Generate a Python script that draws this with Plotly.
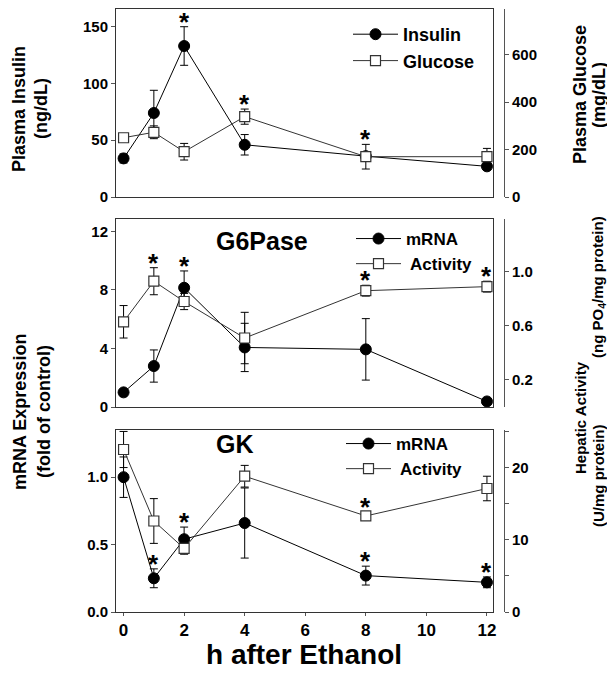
import plotly.graph_objects as go

W, H = 615, 689

hours = [0, 1, 2, 4, 8, 12]
x_ticks = [0, 2, 4, 6, 8, 10, 12]

insulin = [34, 74, 133, 46, 36, 27]
insulin_err = [4, 20, 17, 9, 4, 2]
insulin_star = [0, 0, 1, 0, 0, 0]
glucose = [250, 273, 191, 339, 170, 170]
glucose_err = [15, 27, 35, 32, 52, 35]
glucose_star = [0, 0, 0, 1, 1, 0]

g6_mrna = [1.0, 2.8, 8.15, 4.07, 3.94, 0.38]
g6_mrna_err = [0.1, 1.1, 1.15, 1.65, 2.1, 0.1]
g6_mrna_star = [0, 0, 1, 0, 0, 0]
g6_act = [0.63, 0.93, 0.78, 0.51, 0.86, 0.89]
g6_act_err = [0.12, 0.10, 0.06, 0.19, 0.04, 0.04]
g6_act_star = [0, 1, 0, 0, 1, 1]

gk_mrna = [1.0, 0.25, 0.54, 0.66, 0.27, 0.22]
gk_mrna_err = [0.15, 0.07, 0.09, 0.26, 0.07, 0.04]
gk_mrna_star = [0, 1, 1, 0, 1, 1]
gk_act = [22.5, 12.6, 8.8, 18.8, 13.3, 17.1]
gk_act_err = [2.5, 3.1, 0.8, 1.5, 0.5, 1.7]
gk_act_star = [0, 0, 0, 0, 1, 0]

FONT = "Arial, Liberation Sans, sans-serif"
OFF = 8  # compensation for the page's body margin


def px(xp):
    return (xp - OFF) / W


def py(yp):
    return 1 - (yp - OFF) / H


XDOM = [px(116), px(493)]
RIGHT_POS = px(504)
DOMS = {
    1: [py(197), py(9)],
    2: [py(407), py(219)],
    3: [py(612), py(430)],
}
XRANGE = [-0.25, 12.2]

fig = go.Figure()


def add_series(name, y, err, xa, ya, filled, legend, rank):
    if filled:
        marker = dict(symbol="circle", size=11, color="black",
                      line=dict(color="black", width=1))
        lc = "black"
    else:
        marker = dict(symbol="square", size=10, color="white",
                      line=dict(color="#333333", width=1.2))
        lc = "#333333"
    fig.add_trace(go.Scatter(
        x=hours, y=y, name=name, mode="lines+markers",
        xaxis=xa, yaxis=ya, marker=marker,
        line=dict(color=lc, width=1),
        error_y=dict(type="data", array=err, visible=True, color="black",
                     thickness=1, width=4),
        legend=legend, legendrank=rank,
    ))


add_series("Insulin", insulin, insulin_err, "x", "y", True, "legend", 1)
add_series("Glucose", glucose, glucose_err, "x", "y2", False, "legend", 2)
add_series(" Activity", g6_act, g6_act_err, "x2", "y4", False, "legend2", 2)
add_series("mRNA", g6_mrna, g6_mrna_err, "x2", "y3", True, "legend2", 1)
add_series(" Activity", gk_act, gk_act_err, "x3", "y6", False, "legend3", 2)
add_series("mRNA", gk_mrna, gk_mrna_err, "x3", "y5", True, "legend3", 1)

tickfont = dict(family=FONT, size=15, color="black", weight="bold")

for i in (1, 2, 3):
    xname = "xaxis" if i == 1 else f"xaxis{i}"
    yl = 2 * i - 1
    yr = 2 * i
    ylname = "yaxis" if yl == 1 else f"yaxis{yl}"
    yrname = f"yaxis{yr}"
    bottom = (i == 3)
    fig.layout[xname] = dict(
        domain=XDOM, range=XRANGE, anchor="y" if yl == 1 else f"y{yl}",
        showline=True, mirror=True, linecolor="#333333", linewidth=1,
        showgrid=False, zeroline=False, automargin=False,
        tickvals=x_ticks if bottom else [],
        ticks="outside" if bottom else "", ticklen=3, tickcolor="#555555",
        showticklabels=bottom,
        tickfont=dict(family=FONT, size=17, color="black", weight="bold"),
    )
    fig.layout[ylname] = dict(
        domain=DOMS[i], anchor="x" if i == 1 else f"x{i}",
        showline=True, mirror=True, linecolor="#333333", linewidth=1,
        showgrid=False, zeroline=False, ticks="outside", ticklen=4,
        automargin=False, tickcolor="#555555", tickfont=tickfont,
    )
    fig.layout[yrname] = dict(
        domain=DOMS[i], anchor="free", position=RIGHT_POS, side="right",
        overlaying="y" if yl == 1 else f"y{yl}",
        showline=True, linecolor="#555555", linewidth=1,
        showgrid=False, zeroline=False, ticks="outside", ticklen=4,
        automargin=False, tickcolor="#555555", tickfont=tickfont,
    )

fig.layout.yaxis.update(range=[0, 165.6], tickvals=[0, 50, 100, 150])
fig.layout.yaxis2.update(range=[0, 793], tickvals=[0, 200, 400, 600])
fig.layout.yaxis3.update(range=[0, 12.85], tickvals=[0, 4, 8, 12])
fig.layout.yaxis4.update(range=[0, 1.39], tickvals=[0.2, 0.6, 1.0], tickformat=".1f")
fig.layout.yaxis5.update(range=[0, 1.35], tickvals=[0, 0.5, 1.0], tickformat=".1f")
fig.layout.yaxis6.update(range=[0, 25.2], tickvals=[0, 10, 20],
                         minor=dict(tickvals=[5, 15, 25], ticks="outside",
                                    ticklen=4, tickcolor="#555555"))

# significance stars
star_sets = [
    ("x", "y", insulin, insulin_err, insulin_star),
    ("x", "y2", glucose, glucose_err, glucose_star),
    ("x2", "y3", g6_mrna, g6_mrna_err, g6_mrna_star),
    ("x2", "y4", g6_act, g6_act_err, g6_act_star),
    ("x3", "y5", gk_mrna, gk_mrna_err, gk_mrna_star),
    ("x3", "y6", gk_act, gk_act_err, gk_act_star),
]
for xa, ya, vals, errs, stars in star_sets:
    for h, v, e, s in zip(hours, vals, errs, stars):
        if s:
            fig.add_annotation(x=h, y=v + e, xref=xa, yref=ya, text="*",
                               showarrow=False, yanchor="bottom", yshift=-12,
                               font=dict(family=FONT, size=26, color="black", weight="bold"))


def label(text, xp, yp, size=18):
    fig.add_annotation(x=px(xp), y=py(yp), xref="paper", yref="paper",
                       text=text, showarrow=False, textangle=-90,
                       xanchor="center", yanchor="middle",
                       font=dict(family=FONT, size=size, color="black", weight="bold"))


label("Plasma Insulin", 19, 109)
label("(ng/dL)", 41, 109)
label("Plasma Glucose", 580, 95)
label("(mg/dL)", 599, 95)
label("mRNA Expression", 20, 412)
label("(fold of control)", 44, 412)
label("(ng PO<sub>4</sub>/mg protein)", 599, 287, 15)
label("Hepatic Activity", 580, 418, 15)
label("(U/mg protein)", 598, 476, 15)

fig.add_annotation(x=px(262), y=py(241), xref="paper", yref="paper", text="G6Pase",
                   showarrow=False, font=dict(family=FONT, size=25, color="black", weight="bold"))
fig.add_annotation(x=px(235), y=py(444), xref="paper", yref="paper", text="GK",
                   showarrow=False, font=dict(family=FONT, size=25, color="black", weight="bold"))
fig.add_annotation(x=px(304), y=py(672), xref="paper", yref="paper", text="h after Ethanol",
                   showarrow=False, font=dict(family=FONT, size=28, color="black", weight="bold"))

legend_common = dict(bgcolor="rgba(0,0,0,0)", borderwidth=0, xanchor="left", yanchor="top",
                     tracegroupgap=0, traceorder="normal", itemwidth=45)
f18 = dict(family=FONT, size=18, color="black", weight="bold")
f17 = dict(family=FONT, size=17, color="black", weight="bold")
fig.update_layout(
    width=W, height=H, margin=dict(l=0, r=0, t=0, b=0, autoexpand=False),
    paper_bgcolor="white", plot_bgcolor="white",
    legend=dict(x=px(348), y=py(16), font=f18, **legend_common),
    legend2=dict(x=px(351), y=py(221), font=f17, **legend_common),
    legend3=dict(x=px(341), y=py(426), font=f17, **legend_common),
    showlegend=True,
)

fig.write_html("out.html")
